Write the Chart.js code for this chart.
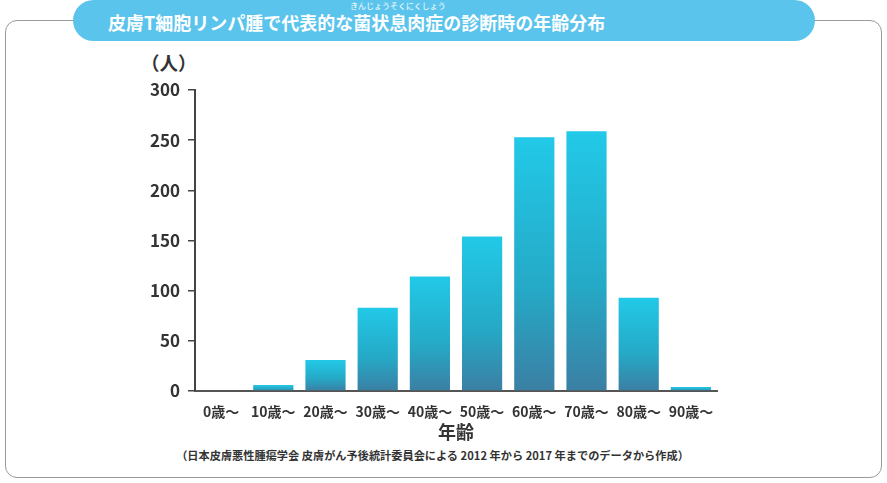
<!DOCTYPE html>
<html lang="ja">
<head>
<meta charset="UTF-8">
<title>皮膚T細胞リンパ腫 年齢分布</title>
<script src="https://cdn.jsdelivr.net/npm/chart.js"></script>
<style>
  body { margin: 0; width: 887px; height: 483px; position: relative; background: #fff;
         font-family: "Noto Sans CJK JP", "Noto Sans", sans-serif; overflow: hidden; }
  .frame { position: absolute; left: 5px; top: 20px; width: 875px; height: 456px;
           border: 1.5px solid #9a9a9a; border-radius: 12px; }
  .pill { position: absolute; left: 73px; top: 0; width: 742px; height: 41px;
          background: #5bc4ec; border-radius: 21px; }
  .ttl { position: absolute; left: 108px; top: 9px; color: #fff; font-weight: bold; font-size: 18px;
         letter-spacing: 0; white-space: nowrap; }
  .ruby { position: absolute; left: 350px; top: 0px; color: #fff; font-size: 8px; white-space: nowrap; }
  .unit { position: absolute; left: 141px; top: 49px; color: #333; font-weight: bold; font-size: 18.5px; }
  .note { position: absolute; left: 0; width: 865px; top: 447px; text-align: center; color: #333;
          font-size: 11.2px; font-weight: bold; }
  #wrap { position: absolute; left: 0; top: 0; width: 887px; height: 483px; }
</style>
</head>
<body>
<div class="frame"></div>
<div class="pill"></div>
<div class="ruby">きんじょうそくにくしょう</div>
<div class="ttl">皮膚T細胞リンパ腫で代表的な菌状息肉症の診断時の年齢分布</div>
<div class="unit">（人）</div>
<div class="note">（日本皮膚悪性腫瘍学会 皮膚がん予後統計委員会による 2012 年から 2017 年までのデータから作成）</div>
<div id="wrap"><canvas id="c"></canvas></div>

<script>
const ageLabels = ['0歳〜', '10歳〜', '20歳〜', '30歳〜', '40歳〜', '50歳〜', '60歳〜', '70歳〜', '80歳〜', '90歳〜'];
const patients = [0, 6, 31, 83, 114, 154, 253, 259, 93, 4];
const yTicks = [0, 50, 100, 150, 200, 250, 300];

// 棒ごとのグラデーション（上：水色 → 下：青緑）
function barGradient(ctx) {
  const chart = ctx.chart;
  const y = chart.scales.y;
  if (!y || !chart.chartArea) return '#25b4d4';
  const v = ctx.raw || 0;
  const top = y.getPixelForValue(v);
  const bottom = y.getPixelForValue(0);
  if (bottom - top < 1) return '#2a8fae';
  const g = chart.ctx.createLinearGradient(0, top, 0, bottom);
  g.addColorStop(0, '#22c9e8');
  g.addColorStop(0.6, '#25a9c6');
  g.addColorStop(1, '#3b7fa3');
  return g;
}

new Chart(document.getElementById('c'), {
  type: 'bar',
  data: {
    labels: ageLabels,
    datasets: [{
      data: patients,
      backgroundColor: barGradient,
      borderWidth: 0,
      categoryPercentage: 1,
      barPercentage: 0.77
    }]
  },
  options: {
    responsive: true,
    maintainAspectRatio: false,
    animation: false,
    layout: { padding: { left: 140, right: 170, top: 90, bottom: 36 } },
    plugins: { legend: { display: false }, tooltip: { enabled: false } },
    scales: {
      x: {
        grid: { display: false },
        border: { color: '#555', width: 2 },
        ticks: { color: '#333', padding: 4, maxRotation: 0, autoSkip: false,
                 font: { family: '"Noto Sans CJK JP"', size: 14, weight: 'bold' } },
        title: { display: true, text: '年齢', color: '#333', padding: { top: 3 },
                 font: { family: '"Noto Sans CJK JP"', size: 18, weight: 'bold' } },
        afterFit: s => { s.height = 56; }
      },
      y: {
        min: 0, max: 300,
        afterBuildTicks: s => { s.ticks = yTicks.map(v => ({ value: v })); },
        grid: { drawOnChartArea: false, drawTicks: true, tickLength: 7, color: '#444', lineWidth: 1.5 },
        border: { color: '#444', width: 2 },
        ticks: { color: '#333', padding: 8,
                 font: { family: '"Noto Sans CJK JP"', size: 17, weight: 'bold' } },
        afterFit: s => { s.width = 55; }
      }
    }
  }
});
</script>
</body>
</html>
